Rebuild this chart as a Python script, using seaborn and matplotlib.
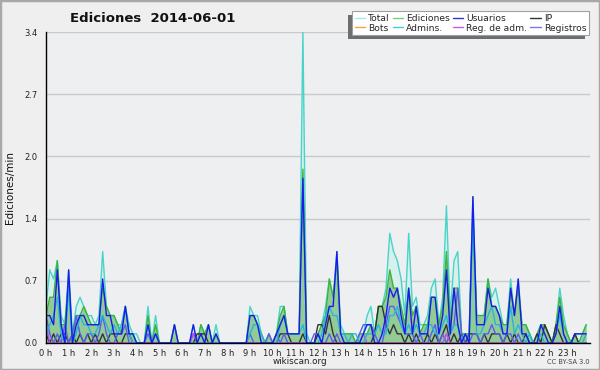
import numpy as np
import pandas as pd
import matplotlib
matplotlib.use("Agg")
import matplotlib.pyplot as plt
import seaborn as sns
from matplotlib.ticker import FixedLocator, MultipleLocator, FixedFormatter
from matplotlib.patches import Rectangle
from matplotlib.lines import Line2D

# ---- data: edits per 10-minute slot (converted to edits/min below) ----
hour_labels = [f"{h} h" for h in range(24)]
y_tick_labels = ["0.0", "0.7", "1.4", "2.0", "2.7", "3.4"]

total = [4, 8, 7, 9, 3, 2,   8, 1, 4, 5, 4, 3,   3, 2, 3, 10, 4, 3,   3, 2, 2, 4, 2, 1,
         1, 0, 0, 4, 0, 3,   0, 0, 0, 0, 2, 0,   0, 0, 0, 2, 0, 2,   1, 2, 0, 2, 0, 0,
         0, 0, 0, 0, 0, 0,   4, 3, 3, 1, 0, 1,   0, 1, 4, 4, 1, 1,   1, 1, 34, 1, 0, 0,
         1, 2, 4, 7, 5, 10,  2, 1, 1, 1, 0, 1,   1, 3, 4, 1, 4, 4,   6, 12, 10, 9, 7, 3,
         12, 4, 5, 2, 2, 3,  6, 7, 2, 5, 15, 3,  9, 10, 1, 1, 1, 16,  3, 3, 3, 7, 5, 6,
         4, 2, 2, 7, 3, 7,   2, 2, 1, 0, 1, 2,   2, 1, 0, 2, 6, 3,   1, 0, 1, 1, 1, 2]
ediciones = [3, 5, 5, 9, 2, 2,   7, 0, 3, 3, 4, 3,   2, 2, 2, 6, 4, 3,   3, 2, 1, 4, 1, 1,
             0, 0, 0, 3, 0, 2,   0, 0, 0, 0, 2, 0,   0, 0, 0, 1, 0, 2,   1, 2, 0, 1, 0, 0,
             0, 0, 0, 0, 0, 0,   3, 3, 2, 1, 0, 1,   0, 1, 3, 4, 1, 1,   1, 1, 19, 0, 0, 0,
             1, 2, 3, 7, 5, 9,   1, 1, 1, 1, 0, 1,   1, 1, 2, 1, 4, 4,   5, 8, 6, 6, 4, 2,
             6, 3, 4, 1, 2, 2,   5, 5, 2, 4, 10, 2,  6, 6, 1, 1, 1, 14,  3, 3, 3, 7, 4, 4,
             3, 2, 2, 6, 3, 6,   2, 2, 1, 0, 1, 2,   2, 1, 0, 2, 5, 2,   1, 0, 1, 0, 1, 2]
usuarios = [3, 3, 2, 8, 2, 0,   8, 0, 2, 3, 3, 2,   2, 2, 2, 7, 3, 3,   1, 1, 1, 4, 1, 1,
            0, 0, 0, 2, 0, 1,   0, 0, 0, 0, 2, 0,   0, 0, 0, 2, 0, 1,   0, 2, 0, 1, 0, 0,
            0, 0, 0, 0, 0, 0,   3, 3, 2, 0, 0, 0,   0, 1, 2, 3, 1, 1,   1, 1, 18, 0, 0, 0,
            1, 0, 2, 4, 4, 10,  1, 0, 0, 0, 0, 0,   1, 2, 2, 0, 0, 1,   3, 6, 5, 6, 3, 1,
            6, 1, 4, 1, 1, 1,   5, 5, 1, 3, 8, 1,   6, 2, 0, 1, 0, 16,  2, 2, 2, 6, 4, 4,
            3, 1, 1, 6, 3, 7,   1, 1, 0, 0, 0, 2,   1, 0, 0, 1, 4, 1,   0, 0, 1, 1, 1, 1]
ip = [1, 0, 1, 0, 1, 1,   0, 1, 0, 1, 0, 1,   0, 1, 0, 1, 0, 1,   1, 0, 0, 1, 1, 0,
      0, 0, 0, 0, 0, 0,   0, 0, 0, 0, 0, 0,   0, 0, 0, 0, 1, 1,   1, 0, 0, 0, 0, 0,
      0, 0, 0, 0, 0, 0,   0, 0, 0, 0, 0, 0,   0, 0, 1, 1, 1, 0,   0, 0, 1, 0, 0, 0,
      2, 2, 1, 3, 1, 0,   0, 0, 0, 0, 0, 0,   0, 0, 0, 1, 4, 4,   2, 1, 2, 1, 1, 0,
      1, 0, 1, 0, 0, 1,   0, 1, 0, 1, 2, 0,   1, 0, 1, 0, 1, 1,   1, 0, 1, 0, 1, 1,
      1, 0, 1, 0, 1, 0,   0, 1, 0, 0, 1, 0,   2, 1, 0, 2, 1, 0,   0, 0, 1, 0, 0, 0]
bots = [0] * 144
admins = [1, 2, 3, 5, 1, 0,   6, 0, 1, 3, 2, 2,   1, 1, 2, 3, 2, 1,   2, 1, 2, 4, 1, 0,
          0, 0, 0, 2, 0, 1,   0, 0, 0, 0, 0, 0,   0, 0, 0, 0, 0, 0,   0, 0, 0, 0, 0, 0,
          0, 0, 0, 0, 0, 0,   1, 2, 2, 1, 0, 0,   0, 0, 2, 3, 1, 1,   1, 1, 2, 0, 0, 0,
          0, 1, 3, 4, 3, 3,   1, 1, 0, 1, 1, 0,   0, 1, 1, 1, 2, 1,   1, 3, 3, 4, 2, 1,
          2, 1, 2, 1, 1, 2,   2, 1, 1, 2, 3, 1,   2, 2, 0, 1, 0, 14,  1, 1, 2, 3, 4, 2,
          2, 1, 1, 4, 1, 2,   1, 0, 1, 0, 0, 1,   0, 0, 0, 1, 3, 1,   0, 0, 0, 0, 0, 1]
reg_adm = [2, 0, 0, 0, 0, 0,   0, 0, 0, 0, 0, 0,   0, 0, 0, 0, 0, 0,   0, 0, 0, 0, 0, 0,
           0, 0, 0, 0, 0, 0,   0, 0, 0, 0, 0, 0,   0, 0, 0, 1, 0, 0,   0, 0, 0, 0, 0, 0,
           0, 0, 0, 0, 0, 0,   0, 0, 0, 0, 0, 0,   0, 0, 0, 0, 0, 0,   0, 0, 0, 0, 0, 0,
           0, 0, 0, 0, 0, 0,   0, 0, 0, 0, 0, 0,   1, 0, 0, 0, 0, 0,   0, 0, 0, 0, 0, 0,
           0, 0, 0, 0, 0, 0,   0, 0, 0, 0, 1, 0,   0, 0, 0, 0, 0, 0,   0, 0, 0, 0, 0, 0,
           0, 0, 0, 0, 0, 0,   0, 0, 0, 0, 0, 0,   0, 0, 0, 0, 0, 0,   0, 0, 0, 0, 0, 0]
registros = [3, 1, 0, 1, 0, 2,   0, 1, 3, 1, 0, 1,   1, 0, 1, 3, 1, 0,   0, 1, 1, 2, 0, 0,
             0, 0, 0, 1, 0, 1,   0, 0, 0, 0, 0, 0,   0, 0, 0, 1, 0, 0,   0, 0, 0, 0, 0, 0,
             0, 0, 0, 0, 0, 0,   1, 0, 0, 0, 0, 1,   0, 1, 0, 1, 0, 0,   0, 0, 0, 0, 0, 1,
             1, 0, 0, 1, 0, 1,   0, 0, 0, 0, 0, 1,   2, 2, 2, 1, 0, 0,   2, 4, 4, 3, 2, 1,
             1, 1, 0, 1, 0, 0,   1, 2, 0, 1, 0, 1,   2, 6, 1, 0, 0, 1,   1, 0, 1, 1, 2, 1,
             1, 0, 1, 1, 0, 1,   0, 0, 0, 0, 0, 0,   0, 0, 0, 0, 0, 0,   0, 0, 0, 0, 0, 0]

series = {"Total": total, "Ediciones": ediciones, "Usuarios": usuarios, "IP": ip,
          "Bots": bots, "Admins.": admins, "Reg. de adm.": reg_adm, "Registros": registros}
for k, v in series.items():
    assert len(v) == 144, (k, len(v))

t = np.arange(144) / 6.0
df = pd.DataFrame({k: np.array(v) / 10.0 for k, v in series.items()})
df["t"] = t

# ---- styling ----
sns.set_theme(style="white")
plt.rcParams['font.family'] = ['DejaVu Sans']
BG = '#eeeff1'

fig = plt.figure(figsize=(6, 3.7), dpi=100, facecolor='#efefef')
ax = fig.add_axes([46/600, 27/370, 544/600, 311/370])
ax.set_facecolor(BG)

line_colors = {"Total": '#48d4c8', "Ediciones": '#3cb43c', "Usuarios": '#1a1aee', "IP": '#333333',
               "Bots": '#ff9933', "Admins.": '#25b6dc', "Reg. de adm.": '#cc44ee', "Registros": '#5c5cf0'}
legend_colors = {"Total": '#a8e8e8', "Ediciones": '#77cc77', "Usuarios": '#3333dd', "IP": '#333333',
                 "Bots": '#ffa040', "Admins.": '#44ccdd', "Reg. de adm.": '#cc55ee', "Registros": '#7777ee'}

ax.fill_between(df["t"], df["Total"], color='#d6f0eb', lw=0, zorder=1)
ax.fill_between(df["t"], df["Ediciones"], color='#93cb96', lw=0, zorder=2)

draw_order = ["Total", "Ediciones", "Bots", "IP", "Registros", "Reg. de adm.", "Admins.", "Usuarios"]
for i, name in enumerate(draw_order):
    sns.lineplot(data=df, x="t", y=name, ax=ax, color=line_colors[name], lw=1.0,
                 zorder=3 + i * 0.1, legend=False)

ax.set_xlim(0, 24)
ax.set_ylim(0, 3.4)
ax.set_xlabel("")
ax.set_ylabel("")

yt = [3.4 * k / 5 for k in range(6)]
ax.yaxis.set_major_locator(FixedLocator(yt))
ax.yaxis.set_major_formatter(FixedFormatter(y_tick_labels))
ax.yaxis.set_minor_locator(FixedLocator([3.4 * k / 20 for k in range(21)]))
ax.xaxis.set_major_locator(FixedLocator(list(range(24))))
ax.xaxis.set_major_formatter(FixedFormatter(hour_labels))
ax.xaxis.set_minor_locator(MultipleLocator(1 / 6))

ax.tick_params(axis='both', which='major', direction='out', width=0.8,
               color='black', labelcolor='#222222')
ax.tick_params(axis='both', which='minor', direction='out', length=3, width=0.8, color='black')
ax.tick_params(axis='y', which='major', labelsize=6, length=5, pad=1)
ax.tick_params(axis='x', which='major', labelsize=6, length=3.5, pad=0.5)

for y in yt[1:]:
    ax.axhline(y, color='#c9c9c9', lw=1.0, zorder=0.5)

for s in ['top', 'right']:
    ax.spines[s].set_visible(False)
for s in ['left', 'bottom']:
    ax.spines[s].set_color('black')
    ax.spines[s].set_linewidth(1.0)
    ax.spines[s].set_zorder(10)

# ---- texts ----
fig.text(153/600, 1 - 18/370, "Ediciones  2014-06-01", ha='center', va='center',
         fontsize=9.5, fontweight='bold', color='#111111')
fig.text(10/600, 1 - 188/370, "Ediciones/min", rotation=90, ha='center', va='center',
         fontsize=7.5, color='#111111')
fig.text(300/600, 1 - 362/370, "wikiscan.org", ha='center', va='center', fontsize=6.3, color='#222222')
fig.text(590/600, 1 - 362/370, "CC BY-SA 3.0", ha='right', va='center', fontsize=4.8, color='#444444')

# ---- legend ----
order = ["Total", "Bots", "Ediciones", "Admins.", "Usuarios", "Reg. de adm.", "IP", "Registros"]
handles = [Line2D([], [], color=legend_colors[n], lw=1.0) for n in order]
leg = fig.legend(handles, order, ncol=4, loc='upper right',
                 bbox_to_anchor=(589/600, 1 - 11/370), bbox_transform=fig.transFigure,
                 frameon=True, fancybox=False, framealpha=1, edgecolor='#a0a0a0',
                 facecolor='white', fontsize=6.6, handlelength=1.1, handletextpad=0.35,
                 columnspacing=0.35, borderpad=0.3, labelspacing=0.1, borderaxespad=0)
leg.get_frame().set_linewidth(0.8)
leg.set_zorder(20)
fig.canvas.draw()
renderer = fig.canvas.get_renderer()
bb = leg.get_frame().get_window_extent(renderer)
inv = fig.transFigure.inverted()
(x0, y0) = inv.transform((bb.x0 - 4, bb.y0 - 4))
(x1, y1) = inv.transform((bb.x1 - 4, bb.y1 - 4))
fig.add_artist(Rectangle((x0, y0), x1 - x0, y1 - y0, transform=fig.transFigure,
                         facecolor='#6e6e6e', edgecolor='none', zorder=19))

# figure border
fig.add_artist(Rectangle((0, 0), 1, 1, transform=fig.transFigure, fill=False,
                         edgecolor='#a8a8a8', lw=2.5, zorder=30))

fig.savefig("out.png", dpi=100, facecolor=fig.get_facecolor())
